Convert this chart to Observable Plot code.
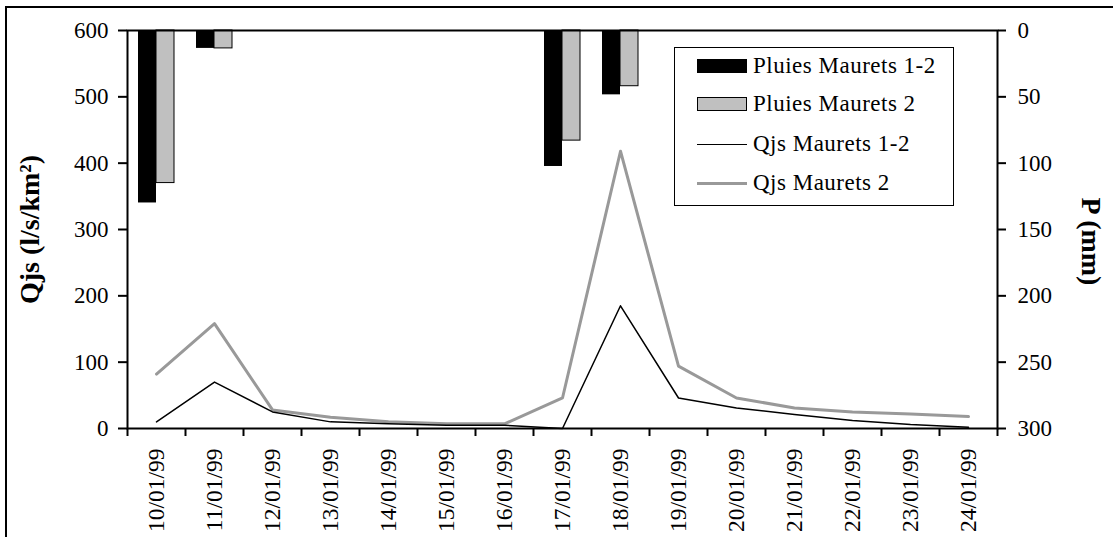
<!DOCTYPE html>
<html>
<head>
<meta charset="utf-8">
<script src="https://cdn.jsdelivr.net/npm/d3@7"></script>
<script src="https://cdn.jsdelivr.net/npm/@observablehq/plot@0.6"></script>
<style>
  html, body { margin: 0; padding: 0; background: #fff; overflow: hidden; }
  #wrap { position: relative; width: 1113px; height: 537px; overflow: hidden; font-family: "Liberation Serif", "Times New Roman", serif; }
  #border { position: absolute; left: 5px; top: 6px; width: 1300px; height: 800px; border: 2px solid #000; box-sizing: border-box; pointer-events: none; }
  #chart { position: absolute; left: 0; top: 0; }
  #legend { position: absolute; left: 674px; top: 47px; width: 280px; height: 159px; border: 1px solid #000; background: #fff; box-sizing: border-box; }
  .row { position: absolute; left: 22px; height: 30px; display: flex; align-items: center; font-size: 23px; letter-spacing: 0.5px; color: #000; white-space: nowrap; }
  .sw { width: 50px; margin-right: 6px; box-sizing: border-box; }
</style>
</head>
<body>
<div id="wrap">
  <div id="chart"></div>
  <div id="legend"></div>
  <div id="border"></div>
</div>
<script>
const dates = ["10/01/99","11/01/99","12/01/99","13/01/99","14/01/99","15/01/99","16/01/99","17/01/99","18/01/99","19/01/99","20/01/99","21/01/99","22/01/99","23/01/99","24/01/99"];
const qjsMaurets12 = [10, 70, 25, 10, 7, 5, 5, 0, 185, 46, 31, 21, 12, 6, 2];
const qjsMaurets2 = [82, 158, 28, 17, 10, 7, 7, 46, 418, 94, 46, 31, 25, 22, 18];
const pluiesMaurets12 = [130, 13.5, 0, 0, 0, 0, 0, 102.5, 48.5, 0, 0, 0, 0, 0, 0];
const pluiesMaurets2 = [115, 13.5, 0, 0, 0, 0, 0, 83, 42, 0, 0, 0, 0, 0, 0];
const qTicks = [0, 100, 200, 300, 400, 500, 600];
const pTicks = [0, 50, 100, 150, 200, 250, 300];
const seriesNames = ["Pluies Maurets 1-2", "Pluies Maurets 2", "Qjs Maurets 1-2", "Qjs Maurets 2"];
const yTitle = "Qjs (l/s/km²)";
const y2Title = "P (mm)";

const QMAX = 600, PMAX = 300;
const pToQ = p => QMAX - p * QMAX / PMAX;

const rows = dates.map((d, i) => ({date: d, q12: qjsMaurets12[i], q2: qjsMaurets2[i], p12: pluiesMaurets12[i], p2: pluiesMaurets2[i]}));

const FONT = "'Liberation Serif', 'Times New Roman', serif";

const chart = Plot.plot({
  width: 1113,
  height: 537,
  marginLeft: 127,
  marginRight: 116,
  marginTop: 30,
  marginBottom: 109,
  style: {fontFamily: FONT, fontSize: "23px", color: "#000", background: "transparent", overflow: "visible"},
  x: {type: "band", domain: dates, paddingInner: 0, paddingOuter: 0},
  y: {domain: [0, QMAX]},
  marks: [
    Plot.barY(rows.filter(r => r.p12 > 0), {x: "date", y1: () => QMAX, y2: r => pToQ(r.p12), fill: "#000", insetLeft: 11, insetRight: 29}),
    Plot.barY(rows.filter(r => r.p2 > 0), {x: "date", y1: () => QMAX, y2: r => pToQ(r.p2), fill: "#c0c0c0", stroke: "#000", strokeWidth: 1, insetLeft: 29, insetRight: 11}),
    Plot.line(rows, {x: "date", y: "q2", stroke: "#999999", strokeWidth: 3}),
    Plot.line(rows, {x: "date", y: "q12", stroke: "#000", strokeWidth: 1.5}),
    Plot.frame({stroke: "#000", strokeWidth: 2}),
    Plot.axisY({ticks: qTicks, tickSize: 9, tickPadding: 10, tickFormat: d => d, label: null, strokeWidth: 2, fontSize: 23}),
    Plot.axisY({anchor: "right", ticks: pTicks.map(pToQ), tickSize: 8, tickPadding: 12, tickFormat: q => (QMAX - q) * PMAX / QMAX, label: null, strokeWidth: 2, fontSize: 23}),
    Plot.axisX({tickSize: 8, dx: -29, text: null, label: null, strokeWidth: 2}),
    Plot.axisX({ticks: [dates[dates.length - 1]], tickSize: 8, dx: 29, text: null, label: null, strokeWidth: 2}),
    Plot.axisX({tickSize: 0, tickPadding: 20, tickRotate: -90, label: null, fontSize: 23.5}),
    Plot.text([yTitle], {frameAnchor: "left", textAnchor: "middle", text: d => d, rotate: -90, dx: -97, fontSize: 28, fontWeight: "bold"}),
    Plot.text([y2Title], {frameAnchor: "right", textAnchor: "middle", text: d => d, rotate: 90, dx: 93, dy: 12, fontSize: 28, fontWeight: "bold"})
  ]
});
document.getElementById("chart").appendChild(chart);

const legend = document.getElementById("legend");
const swatches = [
  '<div class="sw" style="height:14px;background:#000"></div>',
  '<div class="sw" style="height:14px;background:#c0c0c0;border:1px solid #000"></div>',
  '<div class="sw" style="height:0;border-top:1.5px solid #000"></div>',
  '<div class="sw" style="height:0;border-top:3px solid #999"></div>'
];
const rowTops = [3, 41, 81, 120];
seriesNames.forEach((name, i) => {
  const r = document.createElement("div");
  r.className = "row";
  r.style.top = rowTops[i] + "px";
  r.innerHTML = swatches[i] + "<span>" + name + "</span>";
  legend.appendChild(r);
});
</script>
</body>
</html>
